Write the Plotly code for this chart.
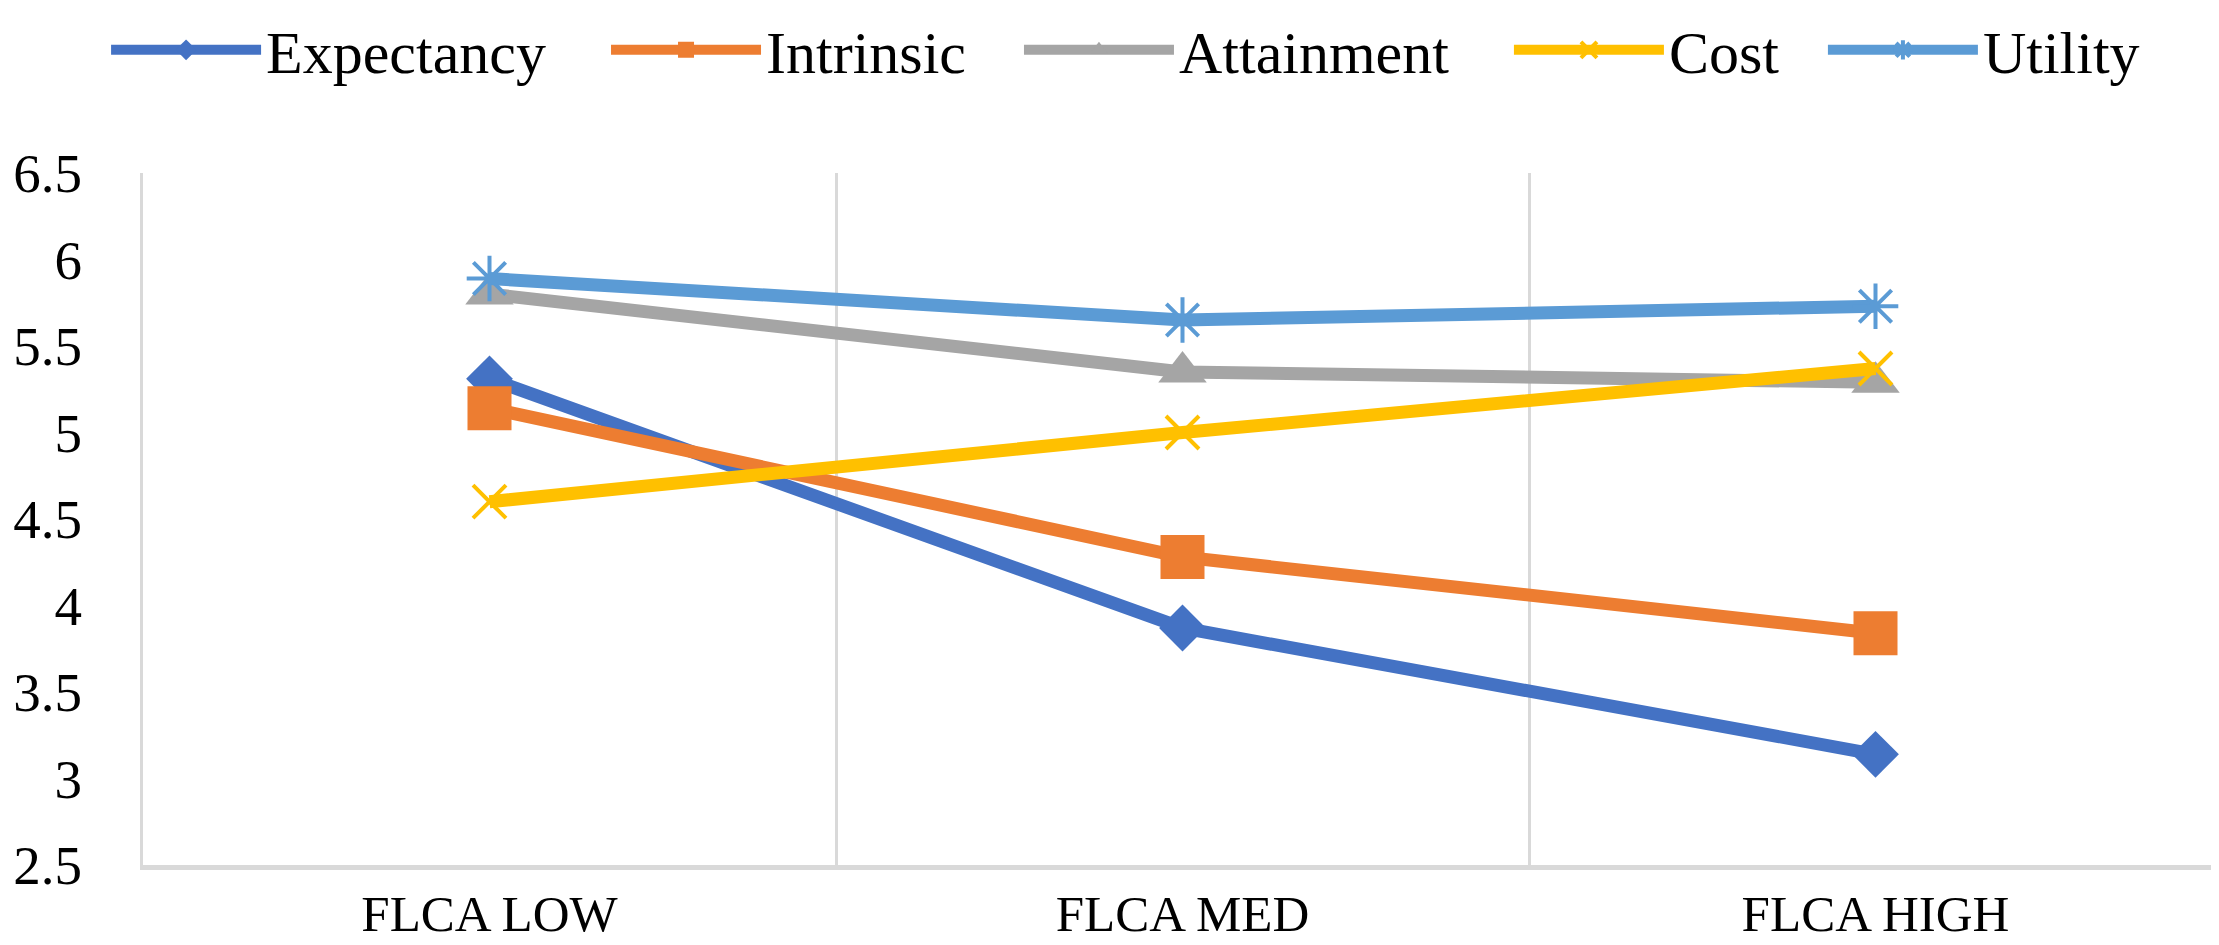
import plotly.graph_objects as go

categories = ['FLCA LOW', 'FLCA MED', 'FLCA HIGH']

expectancy = [5.31, 3.87, 3.14]
intrinsic = [5.14, 4.28, 3.84]
attainment = [5.80, 5.35, 5.29]
cost = [4.60, 5.00, 5.37]
utility = [5.89, 5.65, 5.73]

y_ticks = [2.5, 3, 3.5, 4, 4.5, 5, 5.5, 6, 6.5]

FONT = 'Liberation Serif'

#%%
series = [
    ('Expectancy', expectancy, '#4472C4', dict(symbol='diamond', size=36)),
    ('Intrinsic', intrinsic, '#ED7D31', dict(symbol='square', size=44)),
    ('Attainment', attainment, '#A5A5A5', dict(symbol='triangle-up', size=42)),
    ('Cost', cost, '#FFC000', dict(symbol='x-thin', size=33, line=dict(width=4, color='#FFC000'))),
    ('Utility', utility, '#5B9BD5', dict(symbol='asterisk', size=38, line=dict(width=4, color='#5B9BD5'))),
]
# one legend box per entry (container coords) so the spacing can follow the excel legend
legend_x = [0.0442, 0.2695, 0.4556, 0.6764, 0.8179]
legend_ids = ['legend', 'legend2', 'legend3', 'legend4', 'legend5']

fig = go.Figure()
for (name, vals, color, mk), lid in zip(series, legend_ids):
    fig.add_trace(go.Scatter(x=categories, y=vals, name=name, mode='lines+markers',
                             line=dict(color=color, width=13),
                             marker=dict(color=color, **mk), legend=lid, showlegend=True))

legends = {}
for lid, lx in zip(legend_ids, legend_x):
    legends[lid] = dict(orientation='h', xref='container', x=lx, xanchor='left',
                        y=1.178, yanchor='middle', visible=True,
                        font=dict(size=60, family=FONT), itemwidth=150, itemsizing='trace',
                        bgcolor='rgba(0,0,0,0)')

fig.update_layout(
    width=2219, height=945,
    showlegend=True,
    margin=dict(l=135, r=5, t=165, b=88, autoexpand=False),
    plot_bgcolor='white', paper_bgcolor='white',
    font=dict(family=FONT, color='black'),
    **legends,
)
fig.update_xaxes(type='category', range=[-0.5, 2.5], tickson='boundaries', automargin=False,
                 showgrid=True, gridcolor='#D9D9D9', gridwidth=3,
                 showline=True, linecolor='#D9D9D9', linewidth=5,
                 ticks='', tickfont=dict(size=51), ticklabelstandoff=0)
fig.update_yaxes(range=[2.5, 6.5], tickvals=y_ticks, showgrid=False, zeroline=False, automargin=False,
                 showline=True, linecolor='#D9D9D9', linewidth=3, mirror=True,
                 ticks='', tickfont=dict(size=55), ticklabelstandoff=47)

fig.write_html('out.html')
